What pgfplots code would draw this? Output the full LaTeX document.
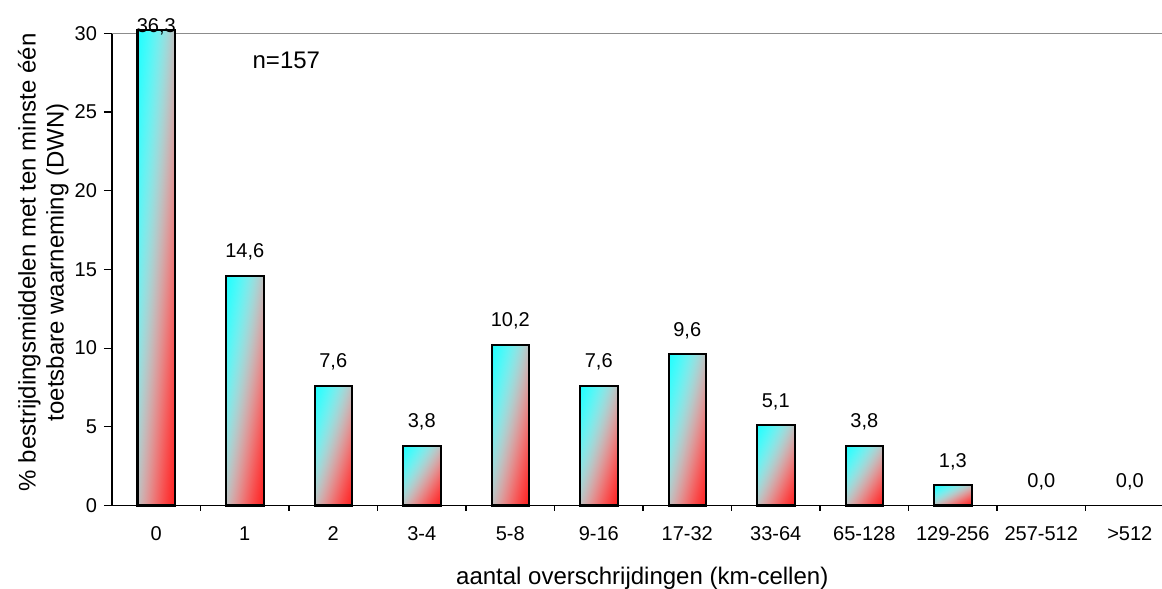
\documentclass[border=0pt]{standalone}
\usepackage{pgfplots}
\pgfplotsset{compat=1.18}
\usepackage{pgfplotstable}
\usepackage{fontspec}
\setmainfont{Liberation Sans}

\pgfplotstableread{
x y lab
1 14.6 14,6
2 7.6 7,6
3 3.8 3,8
4 10.2 10,2
5 7.6 7,6
6 9.6 9,6
7 5.1 5,1
8 3.8 3,8
9 1.3 1,3
10 0.0 0,0
11 0.0 0,0
}\datamain

\pgfplotstableread{
x y lab
0 36.3 36,3
}\datafirst

% diagonal cyan -> light gray -> red shading (top-left to bottom-right), fitted to each bar
\pgfdeclarefunctionalshading{diagcr}{\pgfpoint{-50bp}{-50bp}}{\pgfpoint{50bp}{50bp}}{}{
  sub 100 div dup dup mul -0.5 mul 1.5 add mul
  dup dup mul -0.5 mul 1.5 add mul
  0.5 mul 0.5 add
  dup dup mul dup 1 exch sub 3 1 roll exch 2 mul exch sub exch dup
}

\begin{document}
\begin{tikzpicture}
\path[use as bounding box] (-56pt,-41.75pt) rectangle (525pt,252.75pt);
\begin{axis}[
  at={(0,0)}, anchor=south west,
  width=525pt, height=236.1pt, scale only axis,
  xmin=-0.5, xmax=11.364, ymin=0, ymax=30,
  axis x line*=bottom, axis y line*=left,
  axis line style={-, black, line width=0.6pt},
  tick align=outside,
  xtick={0,...,11},
  xticklabels={0,1,2,3-4,5-8,9-16,17-32,33-64,65-128,129-256,257-512,>512},
  major x tick style={draw=none},
  minor xtick={0.5,1.5,...,10.5},
  minor tick length=2.5pt,
  minor x tick style={black, line width=0.6pt},
  ytick={0,5,...,30},
  major tick length=4pt,
  y tick style={black, line width=0.6pt},
  extra y ticks={30},
  extra y tick labels={},
  extra y tick style={grid=major, major grid style={gray!90, line width=0.8pt}, tick style={draw=none}},
  tick label style={font=\fontsize{10}{12}\selectfont},
  /pgf/number format/assume math mode=true,
  xticklabel style={anchor=base, yshift=-13.5pt},
  ylabel={\% bestrijdingsmiddelen met ten minste één\\toetsbare waarneming (DWN)},
  ylabel style={font=\fontsize{12}{14}\selectfont, align=center, inner sep=0pt,
    at={([xshift=-21.5pt]axis description cs:0,0.515)}, anchor=south},
  xlabel={aantal overschrijdingen (km-cellen)},
  xlabel style={font=\fontsize{12}{14}\selectfont, inner sep=0pt,
    at={([yshift=-36.25pt]axis description cs:0.505,0)}, anchor=center},
  ybar, bar width=18.75pt,
  clip=false,
  barstyle/.style={ybar, bar shift=0pt, draw=black, line width=1pt,
    shade, shading=diagcr,
    nodes near coords, point meta=explicit symbolic},
  labelstyle/.style={every node near coord/.append style={font=\fontsize{10}{12}\selectfont, inner sep=0pt, anchor=base, yshift=#1}},
]
\pgfplotsinvokeforeach{1,...,9}{
\addplot[barstyle, labelstyle=9pt, restrict x to domain=#1:#1]
  table[x=x, y=y, meta=lab] {\datamain};
}
\addplot[ybar, bar shift=0pt, draw=none, fill=none, nodes near coords, point meta=explicit symbolic,
  labelstyle=9pt, restrict x to domain=10:11]
  table[x=x, y=y, meta=lab] {\datamain};
\addplot[barstyle, labelstyle=-1pt]
  table[x=x, y expr={min(\thisrow{y},30.2)}, meta=lab] {\datafirst};
\node[font=\fontsize{12}{14}\selectfont] at (axis cs:1.47,28.3) {n=157};
\end{axis}
\end{tikzpicture}
\end{document}
